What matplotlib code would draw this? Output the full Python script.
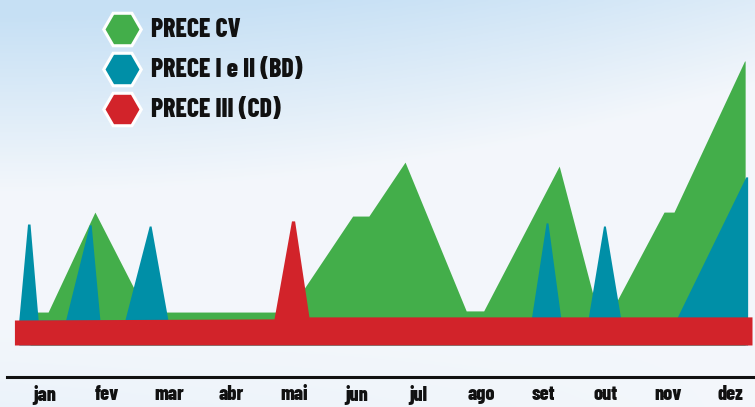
import matplotlib
matplotlib.use("Agg")
import matplotlib.pyplot as plt
import numpy as np

# month axis: 0 = jan ... 11 = dez
months = ["jan", "fev", "mar", "abr", "mai", "jun", "jul", "ago", "set", "out", "nov", "dez"]

cv_x = [-0.23, 0.06, 0.81, 1.63, 3.68, 3.91, 4.94, 5.20, 5.78, 6.76, 7.04, 8.25,
        8.86, 9.09, 9.93, 10.09, 11.22, 11.23, 11.23]
cv_y = [11.6, 11.6, 46.8, 11.6, 11.6, 11.6, 45.4, 45.4, 64.4, 12.0, 12.0, 63.0,
        12.0, 12.0, 46.8, 46.8, 100.0, 100.0, 8.8]

bd_x = [-0.41, -0.27, -0.23, -0.10, 0.34, 0.72, 0.75, 0.89, 1.29, 1.68, 1.71, 1.98,
        7.80, 8.04, 8.07, 8.28, 8.71, 8.96, 8.99, 9.24, 10.12, 11.24, 11.27, 11.27]
bd_y = [8.8, 42.6, 42.6, 8.8, 8.8, 42.3, 42.3, 8.8, 8.8, 41.9, 41.9, 8.8,
        8.8, 43.0, 43.0, 8.8, 8.8, 41.9, 41.9, 8.8, 8.8, 59.2, 59.2, 8.8]

cd_x = [-0.48, 3.68, 3.96, 4.01, 4.24, 11.34]
cd_y = [8.8, 9.2, 43.7, 43.7, 9.9, 9.9]

series = [
    ("PRECE CV", cv_x, cv_y, "#43ae4a"),
    ("PRECE I e II (BD)", bd_x, bd_y, "#008fa7"),
    ("PRECE III (CD)", cd_x, cd_y, "#d2232a"),
]

FONT = ["Barlow Condensed", "DejaVu Sans"]
W, H = 755, 407

fig = plt.figure(figsize=(W / 100, H / 100), dpi=100)

# sky background
bg = fig.add_axes([0, 0, 1, 1])
yy, xx = np.mgrid[0:1:200j, 0:1:300j]
t = np.clip((yy - 0.04) * 2.3 + xx ** 2 * 0.6, 0, 1)
t = np.where(yy > 0.8, t - (yy - 0.8) * 0.9 * (1 - xx), t)
t = np.clip(t, 0, 1)[..., None]
sky = np.array([0.78, 0.88, 0.96])
white = np.array([0.955, 0.968, 0.985])
bg.imshow(sky * (1 - t) + white * t, aspect="auto", extent=(0, 1, 0, 1), origin="upper")
bg.axis("off")

# chart
ax = fig.add_axes([7 / W, 30 / H, 748 / W, 377 / H])
ax.patch.set_alpha(0)
for z, (name, x, y, color) in enumerate(series):
    ax.fill_between(x, 0, y, color=color, linewidth=0, zorder=2 + z)
ax.set_xlim(-0.599, 11.388)
ax.set_ylim(-11.27, 121.48)
for side in ["top", "left", "right"]:
    ax.spines[side].set_visible(False)
ax.spines["bottom"].set_linewidth(2.2)
ax.spines["bottom"].set_color("#111111")
ax.set_yticks([])
ax.set_xticks(range(12))
ax.set_xticklabels(months, family=FONT, fontweight=800, fontsize=14.5, color="#111111")
ax.tick_params(axis="x", length=0, pad=6)

# legend with hexagon markers
lg = fig.add_axes([0, 0, 1, 1])
lg.set_xlim(0, W)
lg.set_ylim(H, 0)
lg.axis("off")
for i, (name, x, y, color) in enumerate(series):
    cy = 29 + i * 40
    lg.plot(122, cy, marker="H", markersize=27, color=color,
            markeredgecolor="white", markeredgewidth=2.2)
    lg.text(151, cy + 8, name, family=FONT, fontweight=800, fontsize=18.5,
            color="#111111", va="baseline", ha="left")

fig.savefig("out.png", dpi=100)
